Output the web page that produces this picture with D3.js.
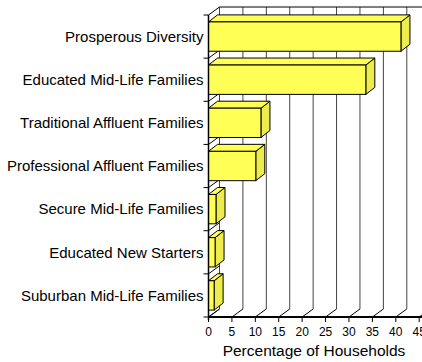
<!DOCTYPE html>
<html>
<head>
<meta charset="utf-8">
<script src="https://cdn.jsdelivr.net/npm/d3@7"></script>
<style>
  body { margin: 0; background: #fff; }
  text { font-family: Arial, "Liberation Sans", sans-serif; fill: #000; }
</style>
</head>
<body>
<div id="chart"></div>
<script>
// Categories, top to bottom
const categories = [
  'Prosperous Diversity',
  'Educated Mid-Life Families',
  'Traditional Affluent Families',
  'Professional Affluent Families',
  'Secure Mid-Life Families',
  'Educated New Starters',
  'Suburban Mid-Life Families'
];

// Percentage of households for each category
const values = [41.1, 33.6, 11.2, 10.1, 1.6, 1.4, 1.2];

// Tick values on the x axis
const xTicks = [0, 5, 10, 15, 20, 25, 30, 35, 40, 45];

const width = 422, height = 362;

// 3d offsets: walls and bars
const wallDx = 11, wallDy = -8;
const barDx = 9, barDy = -7;

const svg = d3.select('#chart').append('svg')
  .attr('width', width)
  .attr('height', height);

// front plane scales
const x = d3.scaleLinear()
  .domain([0, 45])
  .range([208.5, 419.2]);

const y = d3.scaleBand()
  .domain(categories)
  .range([15, 317])
  .paddingInner(0.32)
  .paddingOuter(0.16);

const step = y.step();
const pad = step * 0.16;
const plotTop = 15, plotBottom = 317;

// back wall gridlines
svg.append('g')
  .selectAll('line')
  .data(xTicks.filter(d => d > 0))
  .enter().append('line')
  .attr('x1', d => x(d) + wallDx)
  .attr('x2', d => x(d) + wallDx)
  .attr('y1', plotTop + wallDy)
  .attr('y2', plotBottom + wallDy)
  .attr('stroke', '#444')
  .attr('stroke-width', 1);

// top edge of back wall
svg.append('line')
  .attr('x1', x(0) + wallDx).attr('x2', width)
  .attr('y1', plotTop + wallDy).attr('y2', plotTop + wallDy)
  .attr('stroke', '#000');

// left wall: back edge and category diagonals
svg.append('line')
  .attr('x1', x(0) + wallDx).attr('x2', x(0) + wallDx)
  .attr('y1', plotTop + wallDy).attr('y2', plotBottom + wallDy)
  .attr('stroke', '#444');

const boundaries = categories.map(c => y(c) - pad).concat([plotBottom]);
svg.append('g')
  .selectAll('line')
  .data(boundaries)
  .enter().append('line')
  .attr('x1', x(0)).attr('x2', x(0) + wallDx)
  .attr('y1', d => d).attr('y2', d => d + wallDy)
  .attr('stroke', '#000');

// floor diagonals
svg.append('g')
  .selectAll('line')
  .data(xTicks)
  .enter().append('line')
  .attr('x1', d => x(d)).attr('x2', d => x(d) + wallDx)
  .attr('y1', plotBottom).attr('y2', plotBottom + wallDy)
  .attr('stroke', '#000');

// bars
const bars = svg.append('g')
  .selectAll('g')
  .data(categories.map((c, i) => ({name: c, value: values[i]})))
  .enter().append('g');

// right side face
bars.append('path')
  .attr('d', d => {
    const x1 = x(d.value), y0 = y(d.name), y1 = y0 + y.bandwidth();
    return `M${x1},${y0}L${x1 + barDx},${y0 + barDy}L${x1 + barDx},${y1 + barDy}L${x1},${y1}Z`;
  })
  .attr('fill', '#ecec4c')
  .attr('stroke', '#000')
  .attr('stroke-linejoin', 'round');

// top face
bars.append('path')
  .attr('d', d => {
    const x0 = x(0), x1 = x(d.value), y0 = y(d.name);
    return `M${x0},${y0}L${x0 + barDx},${y0 + barDy}L${x1 + barDx},${y0 + barDy}L${x1},${y0}Z`;
  })
  .attr('fill', '#ffff55')
  .attr('stroke', '#000')
  .attr('stroke-linejoin', 'round');

// front face
bars.append('rect')
  .attr('x', x(0))
  .attr('y', d => y(d.name))
  .attr('width', d => x(d.value) - x(0))
  .attr('height', y.bandwidth())
  .attr('fill', '#ffff55')
  .attr('stroke', '#000');

// front x axis line
svg.append('line')
  .attr('x1', x(0)).attr('x2', width)
  .attr('y1', plotBottom).attr('y2', plotBottom)
  .attr('stroke', '#000')
  .attr('stroke-width', 2);

// x ticks and labels
const xAxis = svg.append('g');
xAxis.selectAll('line')
  .data(xTicks)
  .enter().append('line')
  .attr('x1', d => x(d)).attr('x2', d => x(d))
  .attr('y1', plotBottom).attr('y2', plotBottom + 5)
  .attr('stroke', '#000');
xAxis.selectAll('text')
  .data(xTicks)
  .enter().append('text')
  .attr('x', d => x(d))
  .attr('y', plotBottom + 19)
  .attr('text-anchor', 'middle')
  .style('font-size', '12px')
  .text(d => d);

// front y axis line and category ticks
svg.append('line')
  .attr('x1', x(0)).attr('x2', x(0))
  .attr('y1', plotTop).attr('y2', plotBottom + 3)
  .attr('stroke', '#000')
  .attr('stroke-width', 1.5);

svg.append('g')
  .selectAll('line')
  .data(boundaries)
  .enter().append('line')
  .attr('x1', x(0) - 5).attr('x2', x(0))
  .attr('y1', d => d).attr('y2', d => d)
  .attr('stroke', '#000');

// category labels
svg.append('g')
  .selectAll('text')
  .data(categories)
  .enter().append('text')
  .attr('x', x(0) - 5)
  .attr('y', d => y(d) + y.bandwidth() / 2)
  .attr('dy', '0.35em')
  .attr('text-anchor', 'end')
  .style('font-size', '15px')
  .text(d => d);

// axis title
svg.append('text')
  .attr('x', 314)
  .attr('y', 356)
  .attr('text-anchor', 'middle')
  .style('font-size', '15.5px')
  .text('Percentage of Households');
</script>
</body>
</html>
